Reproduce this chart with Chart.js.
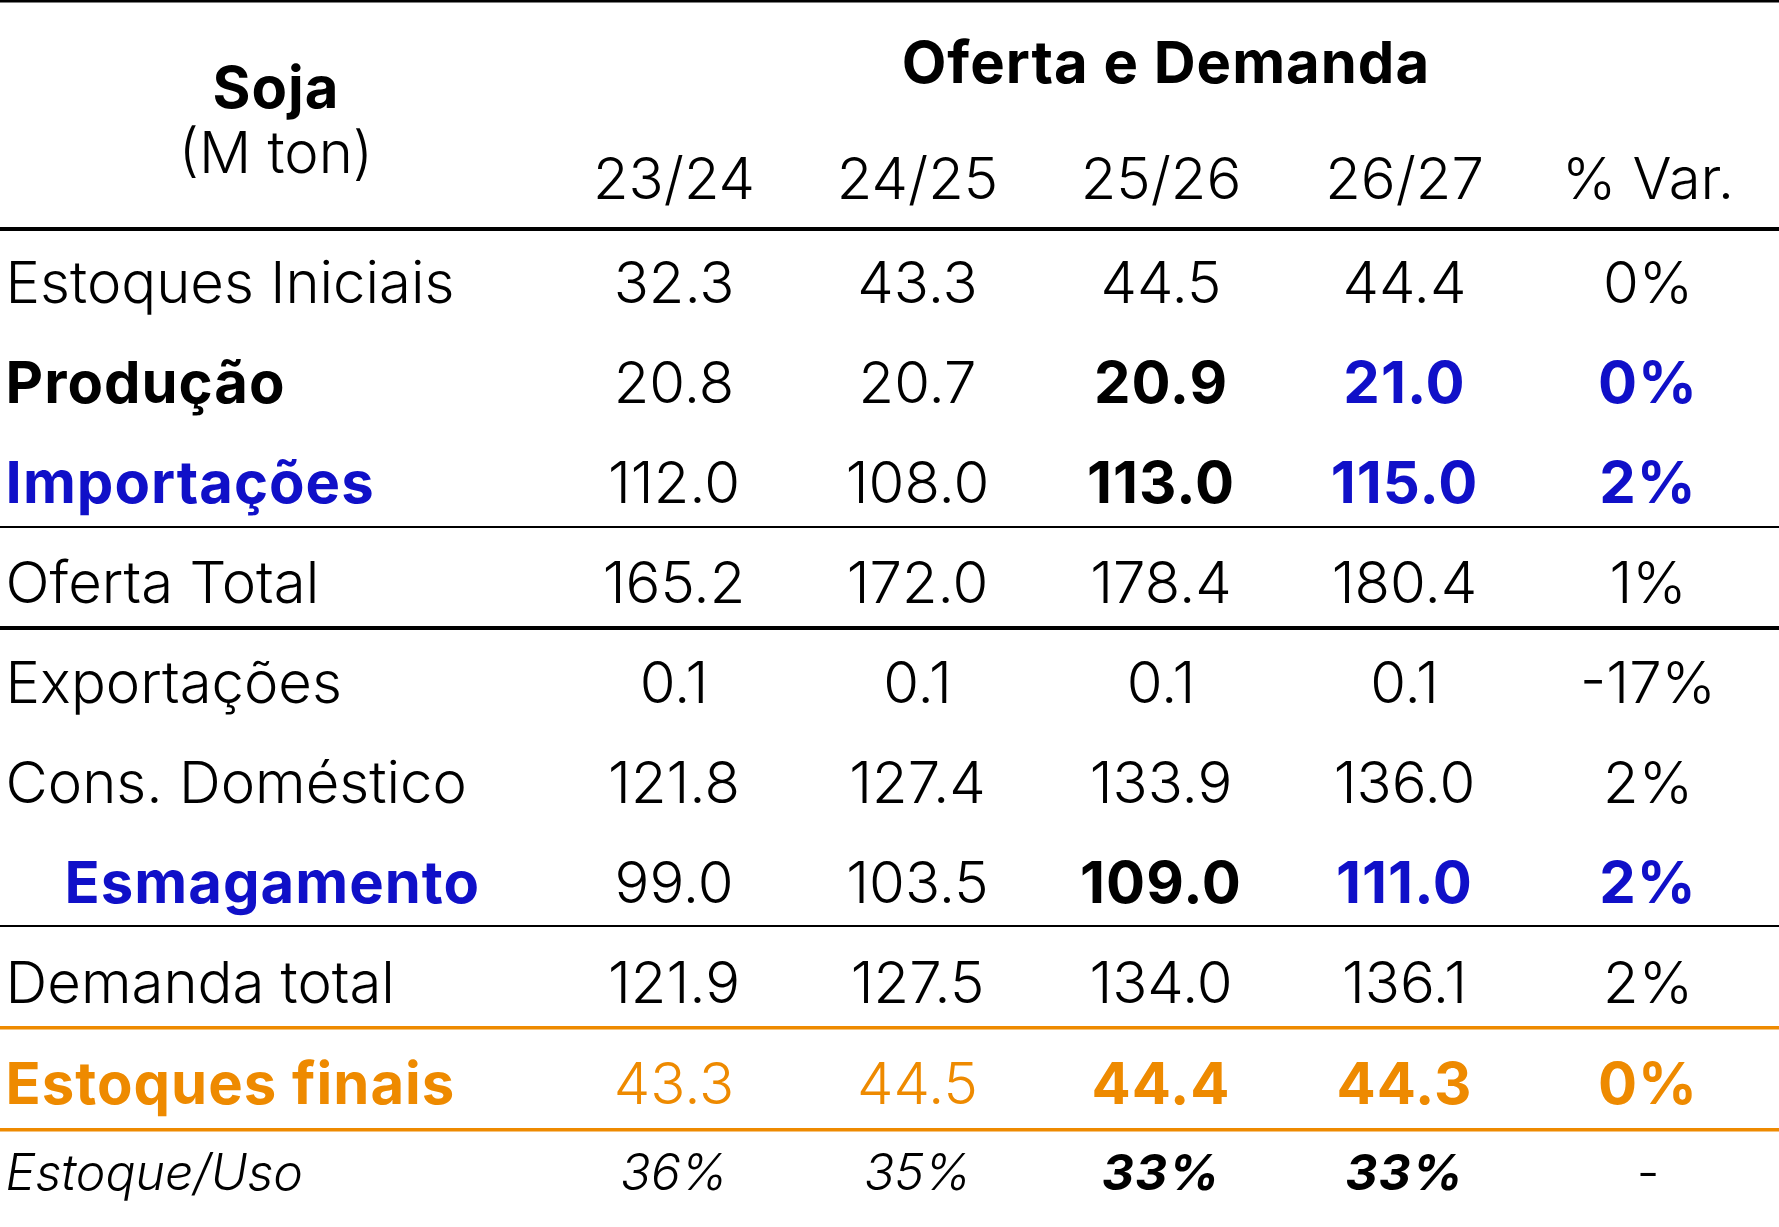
<!DOCTYPE html>
<html>
<head>
<meta charset="utf-8">
<script src="https://cdn.jsdelivr.net/npm/chart.js@4.4.0/dist/chart.umd.min.js"></script>
<style>
html, body { margin: 0; padding: 0; background: #fff; }
#wrap { width: 1779px; height: 1227px; position: relative; }
</style>
</head>
<body>
<div id="wrap"><canvas id="tabela"></canvas></div>
<script>
// dados da tabela
var rowLabels = ['Estoques Iniciais', 'Produção', 'Importações', 'Oferta Total', 'Exportações',
	'Cons. Doméstico', 'Esmagamento', 'Demanda total', 'Estoques finais', 'Estoque/Uso'];
var seasons = ['23/24', '24/25', '25/26', '26/27'];
var varHeader = '% Var.';
var s2324 = [32.3, 20.8, 112.0, 165.2, 0.1, 121.8, 99.0, 121.9, 43.3, 36];
var s2425 = [43.3, 20.7, 108.0, 172.0, 0.1, 127.4, 103.5, 127.5, 44.5, 35];
var s2526 = [44.5, 20.9, 113.0, 178.4, 0.1, 133.9, 109.0, 134.0, 44.4, 33];
var s2627 = [44.4, 21.0, 115.0, 180.4, 0.1, 136.0, 111.0, 136.1, 44.3, 33];
var varPct = [0, 0, 2, 1, -17, 2, 2, 2, 0, null];
var title = 'Oferta e Demanda';
var corner = ['Soja', '(M ton)'];

// layout
var FONT = 'Inter';
var INK = '#000000', BLUE = '#1010C8', ORANGE = '#EE8A00';
var X_MIN = -1.768, X_MAX = X_MIN + 1779 / 243.5;
var Y_MIN = -2.85, Y_MAX = Y_MIN + 12.27;
var LABEL_X = -1.745;
var rowPos = [-0.035, 0.965, 1.965, 2.965, 3.965, 4.965, 5.965, 6.965, 7.98, 8.87];
var rulePos = [-2.84, -0.56, 2.42, 3.43, 6.41, 7.43, 8.45];
var ruleColor = [INK, INK, INK, INK, INK, ORANGE, ORANGE];
var ruleWidth = [2.5, 4, 2, 4, 2, 3.5, 3.5];

var columns = [rowLabels, s2324, s2425, s2526, s2627, varPct];

function cellText(r, c) {
	if (c === 0) return rowLabels[r];
	var v = columns[c][r];
	if (c === 5) return v === null ? '-' : v + '%';
	if (r === 9) return v + '%';
	return v.toFixed(1);
}

function cellStyle(r, c) {
	var st = { bold: false, italic: false, color: INK, size: 58, indent: 0 };
	if (r === 1) {
		if (c === 0 || c === 3) st.bold = true;
		if (c >= 4) { st.bold = true; st.color = BLUE; }
	} else if (r === 2 || r === 6) {
		if (c === 0) { st.bold = true; st.color = BLUE; }
		if (c === 3) st.bold = true;
		if (c >= 4) { st.bold = true; st.color = BLUE; }
		if (r === 6 && c === 0) st.indent = 59;
	} else if (r === 8) {
		st.color = ORANGE;
		if (c === 0 || c >= 3) st.bold = true;
	} else if (r === 9) {
		st.italic = true;
		st.size = 50;
		if (c === 3 || c === 4) st.bold = true;
		if (c === 5) st.italic = false;
	}
	return st;
}

function drawText(ctx, txt, x, y, st, align) {
	ctx.font = (st.italic ? 'italic ' : '') + (st.bold ? '700 ' : '300 ') + st.size + 'px ' + FONT;
	ctx.letterSpacing = st.bold ? '1px' : '0px';
	ctx.fillStyle = st.color;
	ctx.textAlign = align;
	ctx.textBaseline = 'alphabetic';
	ctx.fillText(txt, x, y + st.size * 0.364);
}

var tablePlugin = {
	id: 'tabela',
	afterDatasetsDraw: function(chart) {
		var ctx = chart.ctx;
		var xs = chart.scales.x, ys = chart.scales.y;
		ctx.save();
		chart.data.datasets.forEach(function(ds, c) {
			var meta = chart.getDatasetMeta(c);
			meta.data.forEach(function(pt, r) {
				var st = cellStyle(r, c);
				drawText(ctx, cellText(r, c), pt.x + st.indent, pt.y, st, c === 0 ? 'left' : 'center');
			});
		});
		var head = { bold: false, italic: false, color: INK, size: 58 };
		seasons.concat([varHeader]).forEach(function(h, i) {
			drawText(ctx, h, xs.getPixelForValue(i + 1), ys.getPixelForValue(-1.07), head, 'center');
		});
		drawText(ctx, title, xs.getPixelForValue(3.02), ys.getPixelForValue(-2.23),
			{ bold: true, color: INK, size: 58 }, 'center');
		drawText(ctx, corner[0], xs.getPixelForValue(-0.635), ys.getPixelForValue(-1.98),
			{ bold: true, color: INK, size: 58 }, 'center');
		drawText(ctx, corner[1], xs.getPixelForValue(-0.635), ys.getPixelForValue(-1.33), head, 'center');
		ctx.restore();
	}
};

var datasets = columns.map(function(col, c) {
	return {
		label: c === 0 ? 'rotulo' : (seasons[c - 1] || varHeader),
		data: col.map(function(v, r) { return { x: c === 0 ? LABEL_X : c, y: rowPos[r] }; }),
		pointRadius: 0,
		showLine: false
	};
});

new Chart(document.getElementById('tabela'), {
	type: 'scatter',
	data: { datasets: datasets },
	options: {
		responsive: true,
		maintainAspectRatio: false,
		animation: false,
		events: [],
		layout: { padding: 0 },
		plugins: { legend: { display: false }, tooltip: { enabled: false } },
		scales: {
			x: { type: 'linear', min: X_MIN, max: X_MAX, display: false },
			y: { type: 'linear', reverse: true, min: Y_MIN, max: Y_MAX, display: false },
			rules: {
				type: 'linear', position: 'left', reverse: true, min: Y_MIN, max: Y_MAX,
				ticks: { display: false },
				border: { display: false },
				grid: {
					drawTicks: false,
					color: function(ctx) { return ruleColor[ctx.index]; },
					lineWidth: function(ctx) { return ruleWidth[ctx.index]; }
				},
				afterBuildTicks: function(scale) {
					scale.ticks = rulePos.map(function(v) { return { value: v }; });
				}
			}
		}
	},
	plugins: [tablePlugin]
});
</script>
</body>
</html>
